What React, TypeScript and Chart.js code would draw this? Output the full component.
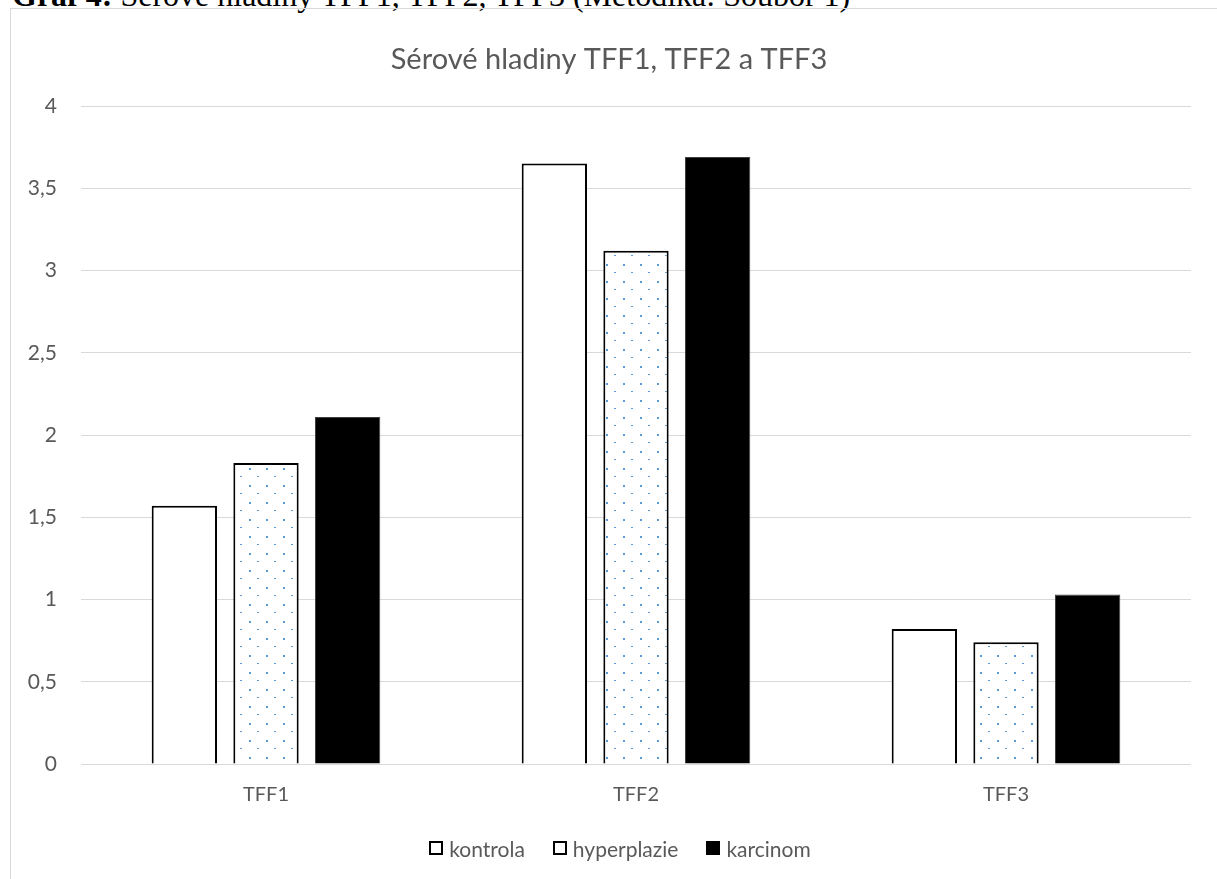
import React, { useEffect, useRef } from "react";
import { Chart, registerables } from "chart.js";

Chart.register(...registerables);

const categories = ["TFF1", "TFF2", "TFF3"];
const kontrola = [1.57, 3.65, 0.82];
const hyperplazie = [1.83, 3.12, 0.74];
const karcinom = [2.11, 3.69, 1.03];
const seriesNames = ["kontrola", "hyperplazie", "karcinom"];
const yMin = 0;
const yMax = 4;
const yStep = 0.5;
const chartTitle = "Sérové hladiny TFF1, TFF2 a TFF3";
const captionBold = "Graf 4:";
const captionRest = " Sérové hladiny TFF1, TFF2, TFF3 (Metodika: Soubor 1)";

const FONT = "Lato, 'Open Sans', sans-serif";
const TEXT = "#595959";
const legendFills = ["#ffffff", "#ffffff", "#000000"];

function makeDots(): CanvasPattern | string {
  const c = document.createElement("canvas");
  c.width = 17;
  c.height = 17;
  const g = c.getContext("2d");
  if (!g) return "#fff";
  g.fillStyle = "#ffffff";
  g.fillRect(0, 0, 17, 17);
  g.fillStyle = "#5b9bd5";
  g.fillRect(0, 0, 2, 2);
  g.fillRect(8, 8, 2, 1);
  return g.createPattern(c, "repeat") || "#fff";
}

export default function App() {
  const ref = useRef<HTMLCanvasElement>(null);
  useEffect(() => {
    if (!ref.current) return;
    const dots = makeDots();
    const common = { categoryPercentage: 0.662, barPercentage: 0.8 };
    const chart = new Chart(ref.current, {
      type: "bar",
      data: {
        labels: categories,
        datasets: [
          { label: seriesNames[0], data: kontrola, backgroundColor: "#ffffff", borderColor: "#000000", borderWidth: 2, ...common },
          { label: seriesNames[1], data: hyperplazie, backgroundColor: dots, borderColor: "#000000", borderWidth: 2, ...common },
          { label: seriesNames[2], data: karcinom, backgroundColor: "#000000", borderColor: "#404040", borderWidth: 1, ...common },
        ],
      },
      options: {
        responsive: false,
        animation: false,
        layout: { padding: { left: 16, right: 25, top: 0, bottom: 20 } },
        plugins: {
          title: {
            display: true,
            text: chartTitle,
            color: TEXT,
            font: { family: FONT, size: 29, weight: "normal" },
            padding: { top: 33.6, bottom: 28.6 },
          },
          legend: { display: false },
          tooltip: { enabled: false },
        },
        scales: {
          x: {
            grid: { display: false, drawTicks: false },
            border: { display: false },
            ticks: { color: TEXT, font: { family: FONT, size: 20 }, padding: 19 },
          },
          y: {
            min: yMin,
            max: yMax,
            grid: { color: "#d9d9d9", drawTicks: false },
            border: { display: false },
            ticks: {
              stepSize: yStep,
              color: TEXT,
              font: { family: FONT, size: 21 },
              padding: 24,
              callback: (v: any) => String(v).replace(".", ","),
            },
            afterFit: (s: any) => {
              s.width = 54;
            },
          },
        },
      },
    });
    return () => chart.destroy();
  }, []);

  return (
    <div style={{ position: "fixed", left: 0, top: 0, width: 1217, height: 879, overflow: "hidden", background: "#fff" }}>
      <div
        style={{
          position: "absolute",
          left: 12,
          top: -23,
          fontFamily: "'Liberation Serif', 'Times New Roman', serif",
          fontSize: 32,
          lineHeight: "36px",
          whiteSpace: "nowrap",
          color: "#000",
        }}
      >
        <b>{captionBold}</b>
        {captionRest}
      </div>
      <div
        style={{
          position: "absolute",
          left: 10,
          top: 8,
          width: 1300,
          height: 1000,
          border: "1px solid #d9d9d9",
          boxSizing: "border-box",
        }}
      >
        <canvas ref={ref} width={1205} height={837} style={{ position: "absolute", left: 0, top: 0 }} />
      </div>
      <div
        style={{
          position: "absolute",
          left: 0,
          width: 1240,
          top: 836,
          height: 24,
          display: "flex",
          justifyContent: "center",
          alignItems: "center",
          fontFamily: FONT,
          fontSize: 21,
          color: TEXT,
          gap: 28,
        }}
      >
        {seriesNames.map((n, i) => (
          <div key={n} style={{ display: "flex", alignItems: "center" }}>
            <span
              style={{
                display: "inline-block",
                width: 14,
                height: 14,
                boxSizing: "border-box",
                border: "2px solid #000",
                background: legendFills[i],
                marginRight: 6,
              }}
            />
            <span>{n}</span>
          </div>
        ))}
      </div>
    </div>
  );
}
